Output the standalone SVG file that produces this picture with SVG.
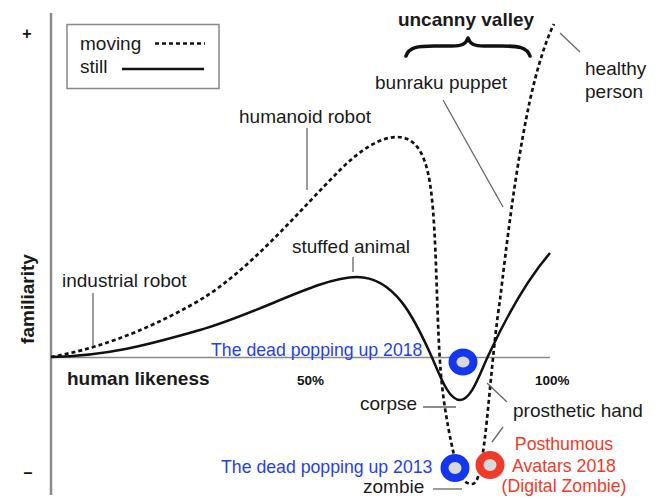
<svg xmlns="http://www.w3.org/2000/svg" width="659" height="499" viewBox="0 0 659 499">
<defs>
<style>
text{font-family:"Liberation Sans",Arial,Helvetica,sans-serif;}
.lbl{font-size:19px;fill:#1a1a1a;}
.bold{font-weight:bold;}
.blue{font-size:17.7px;fill:#1f3ff2;}
.red{font-size:17.7px;fill:#f03a2a;}
.lead{stroke:#666;stroke-width:1.3;fill:none;}
.axis{stroke:#8a8a8a;fill:none;}
.solid{stroke:#111;stroke-width:2.5;fill:none;}
.dash{stroke:#111;stroke-width:2.7;fill:none;stroke-dasharray:4 3;}
.ring{fill:#d9d9d9;stroke-width:8;}
</style>
</defs>
<rect width="659" height="499" fill="#fff"/>
<g id="axes">
<line class="axis" x1="51" y1="13" x2="51" y2="495" stroke-width="2.5" stroke="#999"/>
<line class="axis" x1="51" y1="357.5" x2="550" y2="357.5" stroke-width="1.5"/>
<text x="27" y="39" class="bold" font-size="16" text-anchor="middle" fill="#111">+</text>
<text x="28" y="478" class="bold" font-size="16" text-anchor="middle" fill="#111">–</text>
<text class="lbl bold" transform="translate(34,299) rotate(-90)" text-anchor="middle" font-size="19.5">familiarity</text>
<text x="67" y="385" class="lbl bold">human likeness</text>
<text x="297" y="385" class="bold" font-size="13.5" fill="#111">50%</text>
<text x="535" y="385" class="bold" font-size="13.5" fill="#111">100%</text>
</g>
<g id="legend">
<rect x="67" y="24.5" width="152" height="64" fill="#fff" stroke="#888" stroke-width="1.5"/>
<text x="80" y="50" class="lbl">moving</text>
<line x1="155" y1="43.5" x2="205" y2="43.5" class="dash"/>
<text x="80" y="73" class="lbl">still</text>
<line x1="122" y1="69" x2="204" y2="69" class="solid"/>
</g>
<g id="connectors">
<path id="still-curve" class="solid" d="M51,357 C110,356 150,344 200,330 C260,313 320,277 357,277 C395,277 415,320 430,353 C440,375 448,400 460,400 C472,400 480,372 490,352 C505,320 525,282 550,253"/>
<path id="moving-curve" class="dash" d="M51,357 C90,350 140,335 200,300 C250,270 300,210 340,170 C360,150 380,137 397,137 C425,137 430,175 433,210 C437,260 437,330 441,375 C444,410 452,450 458,470 C462,480 466,484 472,484 C478,484 480,470 483,452 C488,420 493,345 500,300 C506,250 515,170 530,100 C538,65 546,40 554,24"/>
<line class="lead" x1="93" y1="293" x2="93" y2="346"/>
<line class="lead" x1="307" y1="128" x2="307" y2="190"/>
<line class="lead" x1="353" y1="257" x2="353" y2="272"/>
<line class="lead" x1="443" y1="100" x2="503" y2="207"/>
<line class="lead" x1="560" y1="33" x2="580" y2="52"/>
<line class="lead" x1="423" y1="407" x2="456" y2="407"/>
<line class="lead" x1="487" y1="383" x2="507" y2="402"/>
<line class="lead" x1="503" y1="427" x2="492" y2="442"/>
<line class="lead" x1="433" y1="489" x2="462" y2="489"/>
<path d="M406,56 C409,47 418,46 434,46 L452,46 C462,46 466,44 468,38 C470,44 474,46 484,46 L502,46 C518,46 527,47 530,56" fill="none" stroke="#111" stroke-width="3.6" stroke-linecap="round" stroke-linejoin="round"/>
</g>
<g id="uncanny-valley"><text x="466" y="26" class="lbl bold" text-anchor="middle">uncanny valley</text></g>
<g id="industrial-robot"><text x="62" y="287" class="lbl" fill="#333">industrial robot</text></g>
<g id="humanoid-robot"><text x="239" y="123" class="lbl">humanoid robot</text></g>
<g id="stuffed-animal"><text x="292" y="253" class="lbl">stuffed animal</text></g>
<g id="bunraku-puppet"><text x="375" y="89" class="lbl">bunraku puppet</text></g>
<g id="healthy-person"><text x="585" y="75" class="lbl">healthy</text><text x="585" y="98" class="lbl">person</text></g>
<g id="corpse"><text x="360" y="410" class="lbl">corpse</text></g>
<g id="prosthetic-hand"><text x="513" y="417" class="lbl">prosthetic hand</text></g>
<g id="zombie"><text x="363" y="493" class="lbl">zombie</text></g>
<g id="dead-2018">
<text x="211" y="356" class="blue">The dead popping up 2018</text>
<ellipse cx="463" cy="362" rx="10.5" ry="9.5" class="ring" stroke="#1437ee"/>
</g>
<g id="dead-2013">
<text x="221" y="473" class="blue">The dead popping up 2013</text>
<ellipse cx="455" cy="468" rx="10.5" ry="10" class="ring" stroke="#1437ee"/>
</g>
<g id="posthumous-avatars">
<ellipse cx="490" cy="465" rx="10.5" ry="10" class="ring" stroke="#f03a2a"/>
<text x="564" y="450" class="red" text-anchor="middle">Posthumous</text>
<text x="564" y="472" class="red" text-anchor="middle">Avatars 2018</text>
<text x="564" y="492" class="red" text-anchor="middle">(Digital Zombie)</text>
</g>
</svg>
